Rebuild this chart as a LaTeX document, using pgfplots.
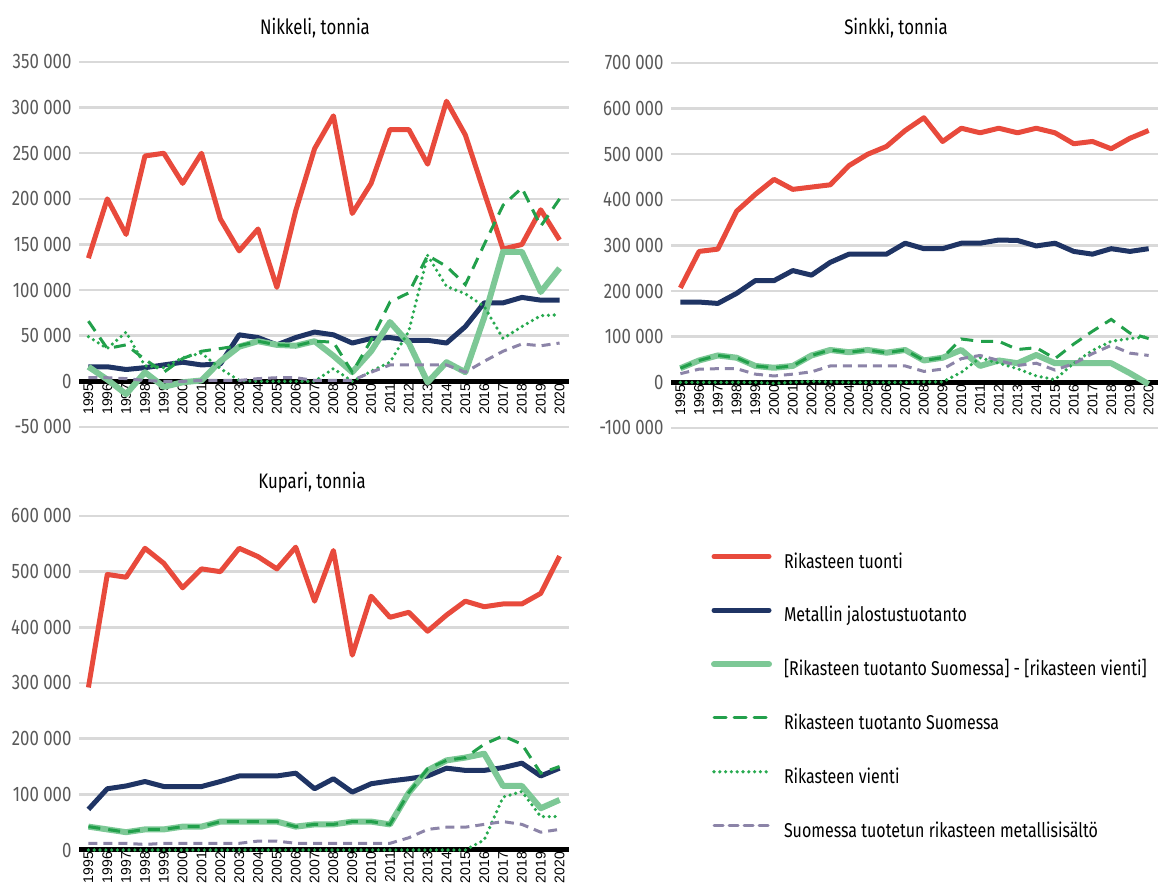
\documentclass[border=0pt]{standalone}
\usepackage{pgfplots}
\pgfplotsset{compat=1.18}
\usepackage{pgfplotstable}
\usepackage{fontspec}
\setmainfont{Fira Sans}[FakeStretch=0.8]
\newfontfamily\yearfont{Liberation Sans}

\definecolor{cred}{RGB}{232,74,60}
\definecolor{cnavy}{RGB}{31,52,100}
\definecolor{clgreen}{RGB}{125,200,150}
\definecolor{cdgreen}{RGB}{34,160,75}
\definecolor{cdot}{RGB}{40,170,80}
\definecolor{cpurple}{RGB}{140,132,168}
\definecolor{cgrid}{RGB}{217,217,217}
\definecolor{ctick}{RGB}{89,89,89}

% year tuonti metalli erotus tuotanto vienti sisalto
\pgfplotstableread{
year tu me di pr vi si
1995 135000 16000 16000 66000 49000 4000
1996 200000 16000 2000 36000 36000 4000
1997 161000 13000 -14000 40000 54000 3000
1998 247000 15000 10000 24000 17000 1000
1999 250000 18000 -6000 10000 15000 0
2000 217000 21000 -1000 25000 26000 0
2001 250000 18000 1000 33000 31000 1000
2002 178000 19000 22000 36000 14000 1000
2003 143000 51000 38000 39000 1000 1000
2004 167000 48000 44000 44000 0 3000
2005 103000 40000 40000 40000 0 4000
2006 187000 48000 39000 39000 0 4000
2007 255000 54000 44000 44000 0 1000
2008 291000 51000 28000 43000 14000 1000
2009 184000 42000 10000 10000 0 1000
2010 217000 47000 33000 45000 11000 10000
2011 276000 48000 65000 87000 21000 18000
2012 276000 45000 42000 97000 55000 18000
2013 238000 45000 -1000 138000 138000 18000
2014 307000 42000 21000 126000 104000 18000
2015 270000 60000 10000 106000 96000 10000
2016 207000 86000 70000 150000 82000 22000
2017 145000 86000 142000 193000 47000 33000
2018 150000 92000 142000 212000 60000 41000
2019 188000 89000 98000 170000 72000 39000
2020 155000 89000 124000 200000 73000 42000
}\nikkeli

\pgfplotstableread{
year tu me di pr vi si
1995 207000 176000 31000 31000 0 19000
1996 287000 176000 48000 48000 0 29000
1997 292000 173000 59000 59000 0 30000
1998 375000 195000 54000 54000 0 30000
1999 412000 223000 36000 36000 0 18000
2000 445000 223000 32000 32000 -2000 14000
2001 423000 245000 36000 36000 0 18000
2002 428000 235000 59000 59000 2000 23000
2003 433000 263000 71000 71000 1000 36000
2004 475000 281000 66000 66000 0 36000
2005 500000 281000 71000 71000 0 36000
2006 517000 281000 65000 65000 0 36000
2007 552000 305000 71000 71000 0 36000
2008 580000 293000 48000 48000 1000 24000
2009 528000 293000 54000 54000 1000 29000
2010 557000 305000 71000 95000 22000 52000
2011 547000 305000 36000 90000 54000 59000
2012 557000 312000 48000 90000 42000 48000
2013 547000 311000 42000 72000 30000 37000
2014 557000 299000 60000 76000 14000 42000
2015 547000 305000 42000 52000 6000 27000
2016 523000 287000 42000 84000 42000 41000
2017 528000 281000 42000 112000 70000 63000
2018 512000 293000 42000 138000 90000 81000
2019 535000 287000 20000 108000 96000 64000
2020 552000 293000 -4000 96000 100000 59000
}\sinkki

\pgfplotstableread{
year tu me di pr vi si
1995 292000 73000 42000 42000 0 12000
1996 495000 110000 37000 37000 0 12000
1997 490000 115000 32000 32000 0 12000
1998 542000 123000 37000 37000 0 10000
1999 515000 114000 37000 37000 0 12000
2000 471000 114000 42000 42000 0 12000
2001 505000 114000 42000 42000 0 12000
2002 500000 123000 51000 51000 0 12000
2003 542000 133000 51000 51000 0 12000
2004 527000 133000 51000 51000 0 16000
2005 505000 133000 51000 51000 0 16000
2006 544000 138000 42000 42000 0 12000
2007 447000 110000 46000 46000 0 12000
2008 538000 128000 46000 46000 0 12000
2009 350000 104000 51000 51000 0 12000
2010 456000 119000 51000 51000 0 12000
2011 418000 124000 46000 46000 0 12000
2012 427000 128000 103000 103000 0 22000
2013 393000 133000 143000 146000 0 37000
2014 422000 147000 161000 161000 0 41000
2015 447000 143000 166000 166000 0 41000
2016 437000 143000 173000 190000 18000 46000
2017 442000 148000 115000 205000 95000 51000
2018 442000 156000 115000 190000 105000 46000
2019 461000 133000 75000 138000 60000 32000
2020 528000 147000 90000 150000 60000 37000
}\kupari

\pgfplotsset{
  mystyle/.style={
    scale only axis, anchor=south west,
    xmin=1994.5, xmax=2020.5,
    axis x line*=middle, axis y line*=left,
    x axis line style={draw=none}, y axis line style={draw=none},
    major tick length=0pt,
    scaled y ticks=false,
    hide obscured x ticks=false, hide obscured y ticks=false,
    ymajorgrids, grid style={cgrid, line width=2.5bp},
    xtick={1995,1996,1997,1998,1999,2000,2001,2002,2003,2004,2005,2006,2007,2008,2009,2010,2011,2012,2013,2014,2015,2016,2017,2018,2019,2020},
    xticklabels={1995,1996,1997,1998,1999,2000,2001,2002,2003,2004,2005,2006,2007,2008,2009,2010,2011,2012,2013,2014,2015,2016,2017,2018,2019,2020},
    xticklabel style={rotate=90, anchor=east, font=\yearfont\fontsize{14bp}{15bp}\selectfont, inner sep=2bp},
    yticklabel style={font=\fontsize{21bp}{24bp}\selectfont, text=ctick, xshift=-4bp},
    clip=false,
  },
  zeroline/.style={black, line width=5bp, forget plot},
  tuonti/.style={cred, line width=5bp, line join=round},
  metalli/.style={cnavy, line width=5bp, line join=round},
  erotus/.style={clgreen, line width=6bp, line join=round},
  tuotanto/.style={cdgreen, line width=3bp, dash pattern=on 12bp off 8bp},
  vienti/.style={cdot, line width=3.6bp, line cap=round, dash pattern=on 0bp off 5.8bp},
  sisalto/.style={cpurple, line width=3bp, dash pattern=on 9bp off 6bp},
}

\begin{document}
\begin{tikzpicture}[x=1bp,y=1bp]
\useasboundingbox (0,0) rectangle (1158,891);

% Nikkeli
\begin{axis}[mystyle, at={(79bp,464bp)}, width=490bp, height=365bp,
  ymin=-50000, ymax=350000,
  ytick={-50000,0,50000,100000,150000,200000,250000,300000,350000},
  yticklabels={-50 000,0,50 000,100 000,150 000,200 000,250 000,300 000,350 000}]
\addplot[zeroline] coordinates {(1994.5,0) (2020.5,0)};
\addplot[tuonti] table[x=year,y=tu] {\nikkeli};
\addplot[metalli] table[x=year,y=me] {\nikkeli};
\addplot[erotus] table[x=year,y=di] {\nikkeli};
\addplot[tuotanto] table[x=year,y=pr] {\nikkeli};
\addplot[vienti] table[x=year,y=vi] {\nikkeli};
\addplot[sisalto] table[x=year,y=si] {\nikkeli};
\end{axis}

% Sinkki
\begin{axis}[mystyle, at={(671bp,463bp)}, width=487bp, height=365bp,
  ymin=-100000, ymax=700000,
  ytick={-100000,0,100000,200000,300000,400000,500000,600000,700000},
  yticklabels={-100 000,0,100 000,200 000,300 000,400 000,500 000,600 000,700 000}]
\addplot[zeroline] coordinates {(1994.5,0) (2020.5,0)};
\addplot[tuonti] table[x=year,y=tu] {\sinkki};
\addplot[metalli] table[x=year,y=me] {\sinkki};
\addplot[erotus] table[x=year,y=di] {\sinkki};
\addplot[tuotanto] table[x=year,y=pr] {\sinkki};
\addplot[vienti] table[x=year,y=vi] {\sinkki};
\addplot[sisalto] table[x=year,y=si] {\sinkki};
\end{axis}

% Kupari
\begin{axis}[mystyle, at={(79bp,41bp)}, width=490bp, height=334bp,
  ymin=0, ymax=600000,
  ytick={0,100000,200000,300000,400000,500000,600000},
  yticklabels={0,100 000,200 000,300 000,400 000,500 000,600 000},
  legend cell align=left,
  legend image code/.code={\draw[#1, line cap=round, dash phase=0bp] (0bp,6bp) -- (55bp,6bp);},
  legend style={at={(1.2898,0.892)}, anchor=north west, draw=none, fill=none,
    inner sep=0pt, outer sep=0pt, row sep=32.8bp, column sep=12bp,
    font=\fontsize{20bp}{23bp}\selectfont,
    nodes={inner sep=0pt, text height=16bp, text depth=5bp}}]
\addplot[zeroline] coordinates {(1994.5,0) (2020.5,0)};
\addplot[tuonti] table[x=year,y=tu] {\kupari};
\addlegendentry{Rikasteen tuonti}
\addplot[metalli] table[x=year,y=me] {\kupari};
\addlegendentry{Metallin jalostustuotanto}
\addplot[erotus] table[x=year,y=di] {\kupari};
\addlegendentry{[Rikasteen tuotanto Suomessa] - [rikasteen vienti]}
\addplot[tuotanto] table[x=year,y=pr] {\kupari};
\addlegendentry{Rikasteen tuotanto Suomessa}
\addplot[vienti] table[x=year,y=vi] {\kupari};
\addlegendentry{Rikasteen vienti}
\addplot[sisalto] table[x=year,y=si] {\kupari};
\addlegendentry{Suomessa tuotetun rikasteen metallisisältö}
\end{axis}

\node[font=\fontsize{21bp}{24bp}\selectfont] at (315,863) {Nikkeli, tonnia};
\node[font=\fontsize{21bp}{24bp}\selectfont] at (896,863) {Sinkki, tonnia};
\node[font=\fontsize{21bp}{24bp}\selectfont] at (312,408) {Kupari, tonnia};
\end{tikzpicture}
\end{document}
